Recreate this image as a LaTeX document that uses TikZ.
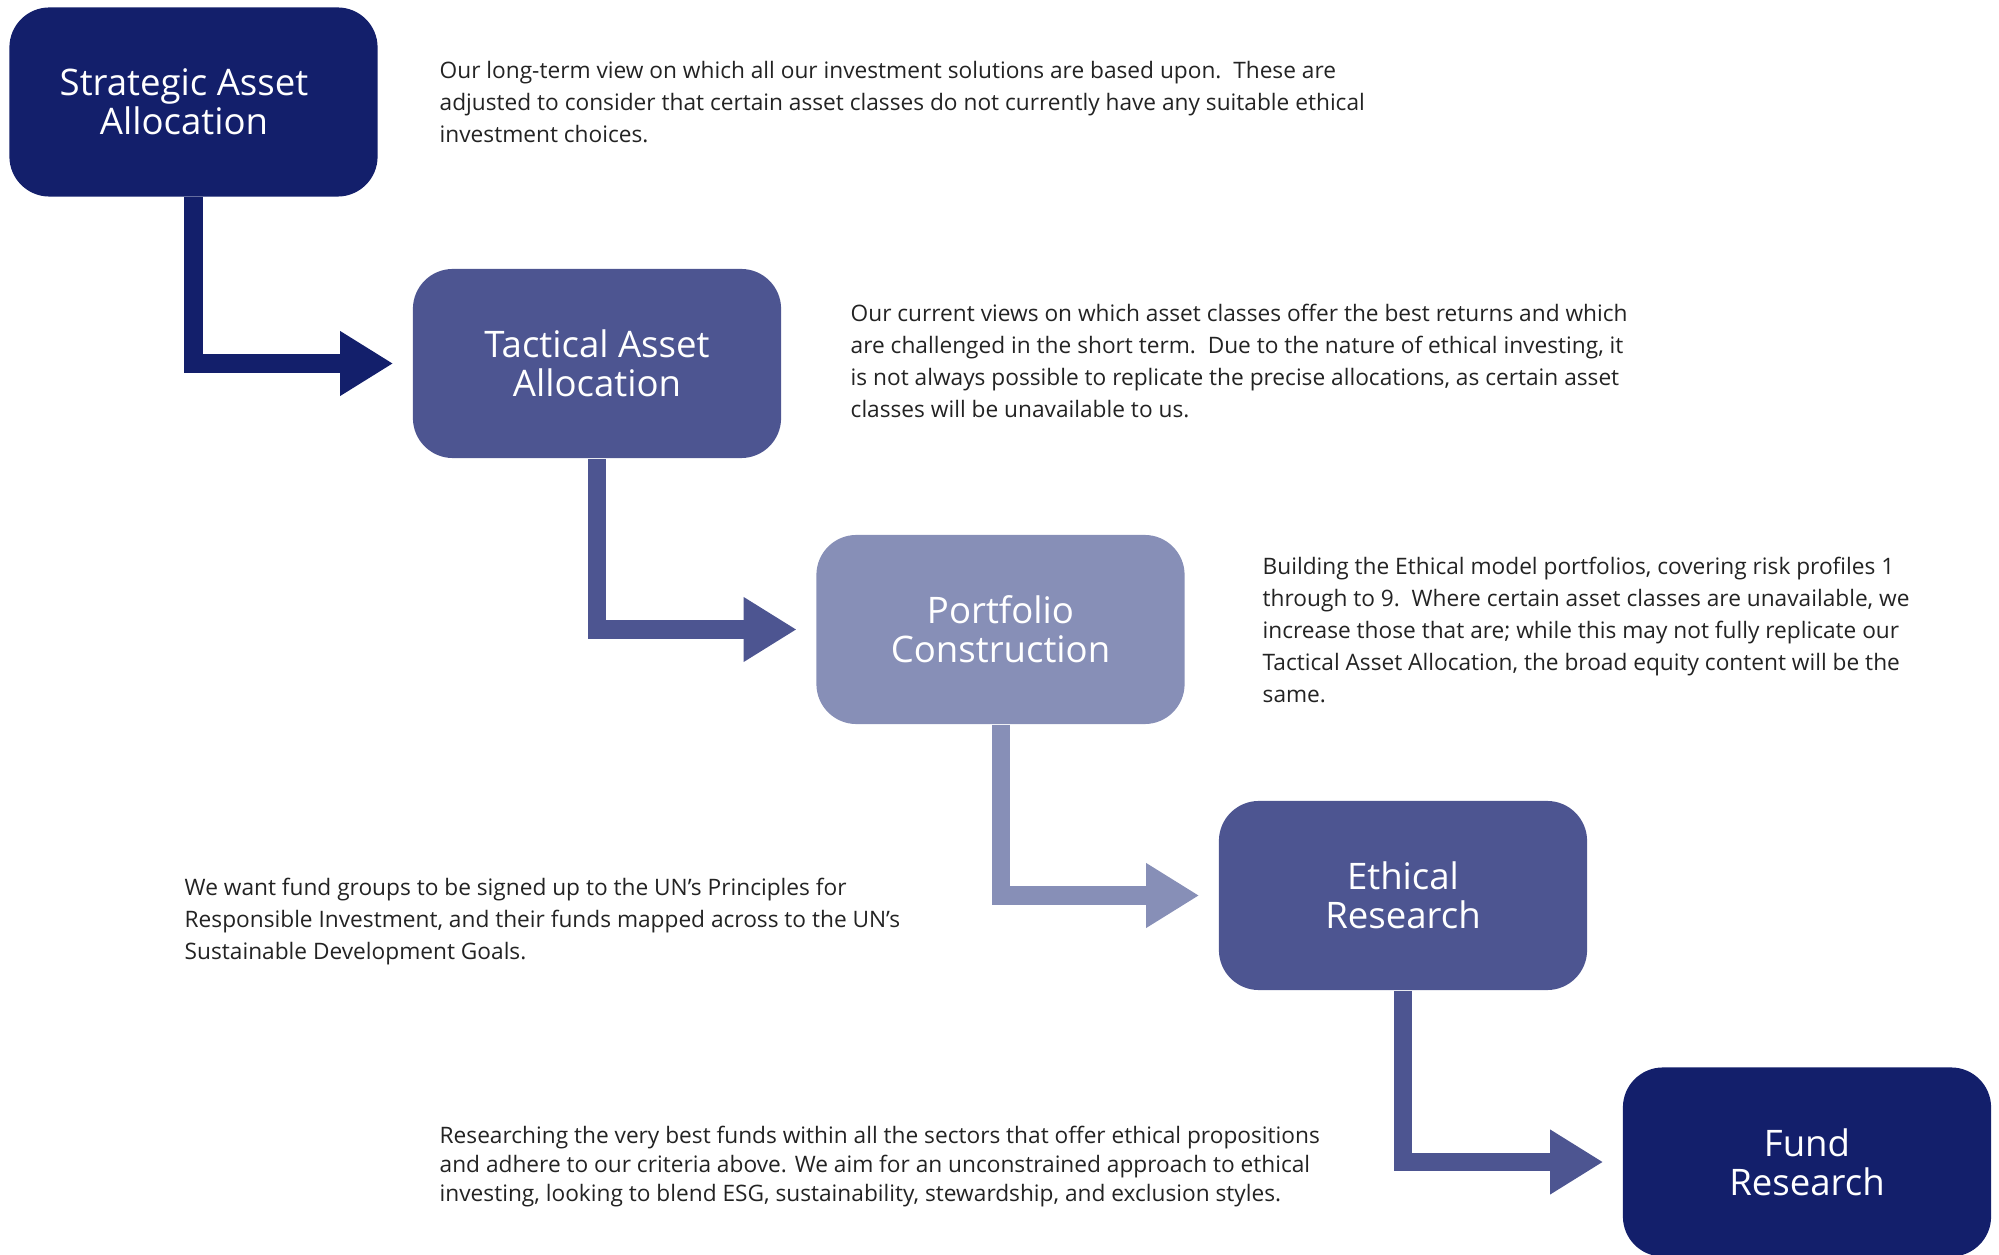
\documentclass[tikz,border=0pt]{standalone}
\usepackage{fontspec}
\setmainfont{Open Sans}
\usetikzlibrary{arrows.meta}

\definecolor{navy}{RGB}{19,31,107}
\definecolor{slate}{RGB}{77,85,145}
\definecolor{lilac}{RGB}{135,143,183}
\definecolor{ink}{RGB}{35,35,35}

\tikzset{
  stage/.style={fill=#1, text=white, rounded corners=0.4cm, minimum width=3.68cm,
    minimum height=1.89cm, align=center, font=\fontsize{10.4pt}{11.1pt}\selectfont},
  blurb/.style={anchor=north west, align=left, inner sep=0pt, text=ink,
    font=\fontsize{6.45pt}{9.1pt}\selectfont},
  flow/.style={draw=#1, line width=0.18cm, shorten >=0.19cm,
    -{Triangle[length=0.53cm, width=0.61cm]}}
}

\begin{document}
\begin{tikzpicture}[x=0.01cm, y=-0.01cm]
            \useasboundingbox (0,0) rectangle (1999,1255);
            \node[stage=navy]  (saa) at (193.5,102)    {Strategic Asset\hspace*{0.19cm}\\Allocation\hspace*{0.19cm}};
            \node[stage=slate] (taa) at (597,363.5)    {Tactical Asset\\Allocation};
            \node[stage=lilac] (pc)  at (1000.5,629.5) {Portfolio\\Construction};
            \node[stage=slate] (er)  at (1403,895.5)   {Ethical\\Research};
            \node[stage=navy]  (fr)  at (1807,1162)    {Fund\\Research};

            \draw[flow=navy]  (saa.south) |- (taa.west);
            \draw[flow=slate] (taa.south) |- (pc.west);
            \draw[flow=lilac] (pc.south)  |- (er.west);
            \draw[flow=slate] (er.south)  |- (fr.west);

            \node[blurb] (saatext) at (439,61) {Our long-term view on which all our investment solutions are based upon.\ \ These are\\
                adjusted to consider that certain asset classes do not currently have any suitable ethical\\
                investment choices.};
            \node[blurb] (taatext) at (850,303) {Our current views on which asset classes offer the best returns and which\\
                are challenged in the short term.\ \ Due to the nature of ethical investing, it\\
                is not always possible to replicate the precise allocations, as certain asset\\
                classes will be unavailable to us.};
            \node[blurb] (pctext) at (1262,556) {Building the Ethical model portfolios, covering risk profiles 1\\
                through to 9.\ \ Where certain asset classes are unavailable, we\\
                increase those that are; while this may not fully replicate our\\
                Tactical Asset Allocation, the broad equity content will be the\\
                same.};
            \node[blurb] (ertext) at (184,877) {We want fund groups to be signed up to the UN’s Principles for\\
                Responsible Investment, and their funds mapped across to the UN’s\\
                Sustainable Development Goals.};
            \node[blurb, font=\fontsize{6.45pt}{8.25pt}\selectfont] (frtext) at (439,1125) {Researching the very best funds within all the sectors that offer ethical propositions\\
                and adhere to our criteria above. We aim for an unconstrained approach to ethical\\
                investing, looking to blend ESG, sustainability, stewardship, and exclusion styles.};
\end{tikzpicture}
\end{document}
